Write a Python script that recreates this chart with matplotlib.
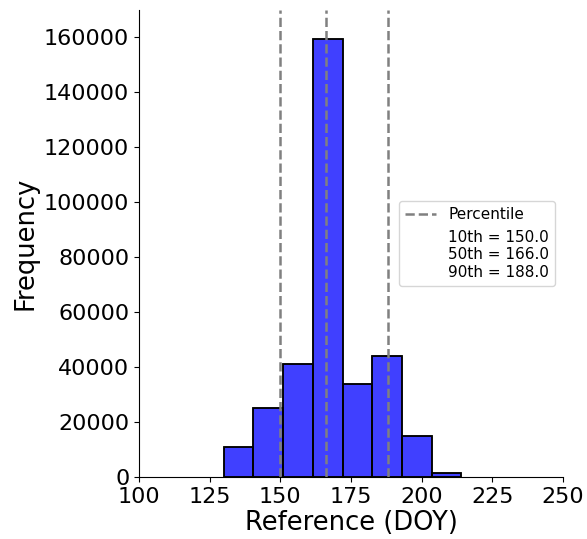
import matplotlib
matplotlib.use('Agg')
import matplotlib.pyplot as plt
from matplotlib.lines import Line2D
import numpy as np

# histogram: bin edges (DOY) and counts
bin_edges = [130.0, 140.5, 151.0, 161.5, 172.0, 182.5, 193.0, 203.5, 214.0]
counts = [11000, 25100, 41200, 159300, 33800, 44100, 14900, 1600]

pct_names = ['10th', '50th', '90th']
pct_values = [150.0, 166.0, 188.0]

fig = plt.figure(figsize=(5.87, 5.39), dpi=100)
ax = fig.add_axes([0.2368, 0.1145, 0.7223, 0.867])

ax.hist(bin_edges[:-1], bins=bin_edges, weights=counts,
        color='blue', alpha=0.75, edgecolor='black', linewidth=1.2)
# redraw edges fully opaque
ax.hist(bin_edges[:-1], bins=bin_edges, weights=counts,
        histtype='bar', facecolor='none', edgecolor='black', linewidth=1.2)

for v in pct_values:
    ax.axvline(v, color='grey', linestyle='--', linewidth=1.8)

ax.set_xlim(100, 250)
ax.set_ylim(0, 170000)
ax.set_xticks([100, 125, 150, 175, 200, 225, 250])
ax.set_yticks(np.arange(0, 160001, 20000))
ax.tick_params(labelsize=16)
ax.set_xlabel('Reference (DOY)', fontsize=18.5, labelpad=2)
ax.set_ylabel('Frequency', fontsize=18.5)
ax.spines['right'].set_visible(False)
ax.spines['top'].set_visible(False)

handles = [Line2D([], [], color='grey', linestyle='--', linewidth=1.8),
           Line2D([], [], color='none')]
text = '\n'.join('{} = {:.1f}'.format(n, v) for n, v in zip(pct_names, pct_values))
ax.legend(handles, ['Percentile', text], fontsize=11, loc='center right',
          handlelength=2.0)

fig.savefig('out.png', dpi=100)
